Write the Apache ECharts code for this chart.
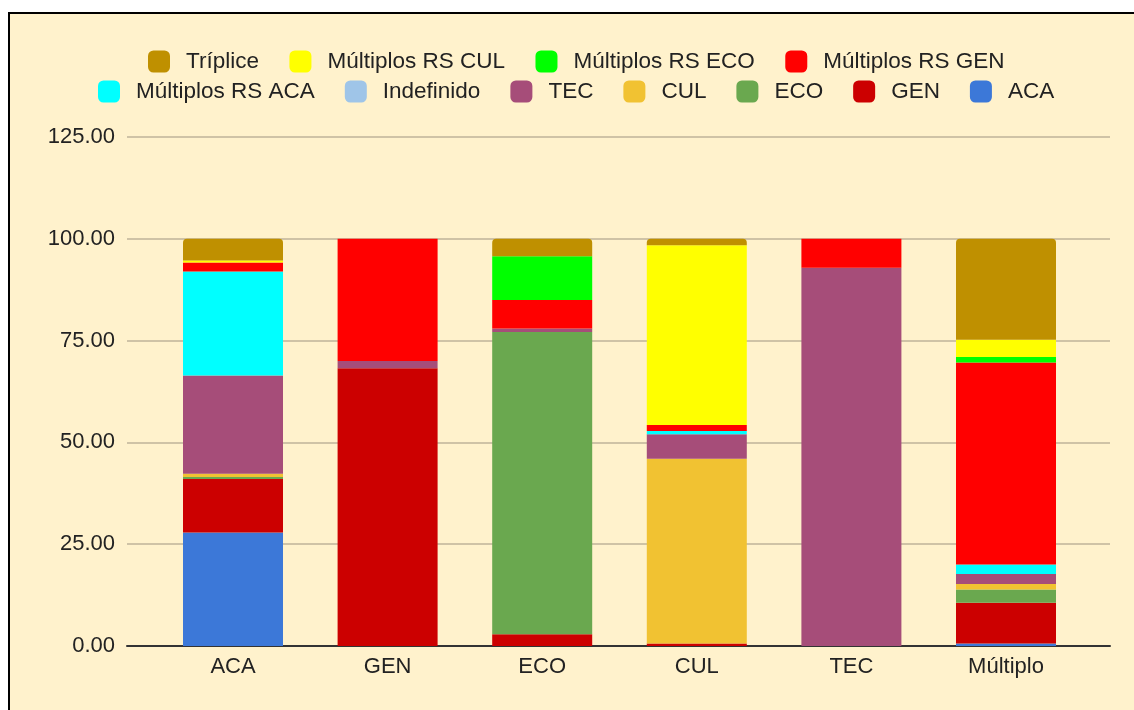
<!DOCTYPE html>
<html>
<head>
<meta charset="utf-8">
<script src="https://cdn.jsdelivr.net/npm/echarts@6/dist/echarts.min.js"></script>
<style>
  html, body { margin: 0; padding: 0; background: #ffffff; width: 1134px; height: 710px; overflow: hidden; }
  #frame { position: absolute; left: 8px; top: 12px; width: 1140px; height: 720px; border: 2px solid #000; background: #fff2cc; box-sizing: border-box; }
  #chart { position: absolute; left: 0; top: 0; width: 1134px; height: 710px; }
</style>
</head>
<body>
<div id="frame"></div>
<div id="chart"></div>
<script>
const categories = ['ACA', 'GEN', 'ECO', 'CUL', 'TEC', 'Múltiplo'];
const yTicks = [0, 25, 50, 75, 100, 125];

const aca       = [27.9, 0,    0,    0,    0,    0.6];
const gen       = [13.1, 68.2, 2.9,  0.6,  0,    10.0];
const eco       = [0.5,  0,    74.2, 0,    0,    3.3];
const cul       = [0.8,  0,    0,    45.4, 0,    1.3];
const tec       = [24.1, 1.8,  0.9,  6.0,  92.9, 2.5];
const indef     = [0,    0,    0,    0,    0,    0];
const mAca      = [25.6, 0,    0,    0.8,  0,    2.3];
const mGen      = [2.2,  30.0, 7.0,  1.5,  7.1,  49.6];
const mEco      = [0,    0,    10.7, 0,    0,    1.4];
const mCul      = [0.5,  0,    0,    44.1, 0,    4.2];
const triplice  = [5.3,  0,    4.3,  1.6,  0,    24.8];

const seriesDefs = [
  { name: 'ACA', data: aca, color: '#3c78d8' },
  { name: 'GEN', data: gen, color: '#cc0000' },
  { name: 'ECO', data: eco, color: '#6aa84f' },
  { name: 'CUL', data: cul, color: '#f1c232' },
  { name: 'TEC', data: tec, color: '#a64d79' },
  { name: 'Indefinido', data: indef, color: '#9fc5e8' },
  { name: 'Múltiplos RS ACA', data: mAca, color: '#00ffff' },
  { name: 'Múltiplos RS GEN', data: mGen, color: '#ff0000' },
  { name: 'Múltiplos RS ECO', data: mEco, color: '#00ff00' },
  { name: 'Múltiplos RS CUL', data: mCul, color: '#ffff00' },
  { name: 'Tríplice', data: triplice, color: '#bf9000' }
];

const legendRow1 = ['Tríplice', 'Múltiplos RS CUL', 'Múltiplos RS ECO', 'Múltiplos RS GEN'];
const legendRow2 = ['Múltiplos RS ACA', 'Indefinido', 'TEC', 'CUL', 'ECO', 'GEN', 'ACA'];

const FONT = '"Liberation Sans", Arial, sans-serif';
const legendText = { color: '#222', fontSize: 22.5, fontFamily: FONT, padding: [0, 0, 0, 11] };

const chart = echarts.init(document.getElementById('chart'), null, { renderer: 'canvas' });
chart.setOption({
  backgroundColor: 'transparent',
  animation: false,
  legend: [
    { data: legendRow1, left: 143, top: 45, itemWidth: 22, itemHeight: 22, itemGap: 30.5, icon: 'roundRect', textStyle: legendText },
    { data: legendRow2, left: 93, top: 75, itemWidth: 22, itemHeight: 22, itemGap: 30, icon: 'roundRect', textStyle: legendText }
  ],
  grid: [
    { left: 155.7, right: 50.7, top: 137, bottom: 64 },
    { left: 127, right: 24, top: 137, bottom: 64 }
  ],
  xAxis: [
    {
      type: 'category', gridIndex: 0, data: categories,
      axisLine: { show: false }, axisTick: { show: false },
      axisLabel: { color: '#222', fontSize: 22, fontFamily: FONT, margin: 10 }
    },
    {
      type: 'category', gridIndex: 1, data: [''],
      axisLine: { show: true, lineStyle: { color: '#333', width: 2 } },
      axisTick: { show: false }, axisLabel: { show: false }
    }
  ],
  yAxis: [
    {
      type: 'value', gridIndex: 0, min: yTicks[0], max: yTicks[yTicks.length - 1], interval: 25,
      show: false, splitLine: { show: false }
    },
    {
      type: 'value', gridIndex: 1, min: yTicks[0], max: yTicks[yTicks.length - 1], interval: 25,
      axisLine: { show: false }, axisTick: { show: false },
      axisLabel: { color: '#222', fontSize: 22, fontFamily: FONT, margin: 12, formatter: v => v.toFixed(2) },
      splitLine: { show: true, lineStyle: { color: '#cfc3a6', width: 2 } }
    }
  ],
  series: seriesDefs.map(s => ({
    name: s.name, type: 'bar', stack: 'total', xAxisIndex: 0, yAxisIndex: 0,
    barWidth: 100, data: s.data, z: 3,
    itemStyle: { color: s.color, borderRadius: s.name === 'Tríplice' ? [4, 4, 0, 0] : 0 }
  }))
});
</script>
</body>
</html>
